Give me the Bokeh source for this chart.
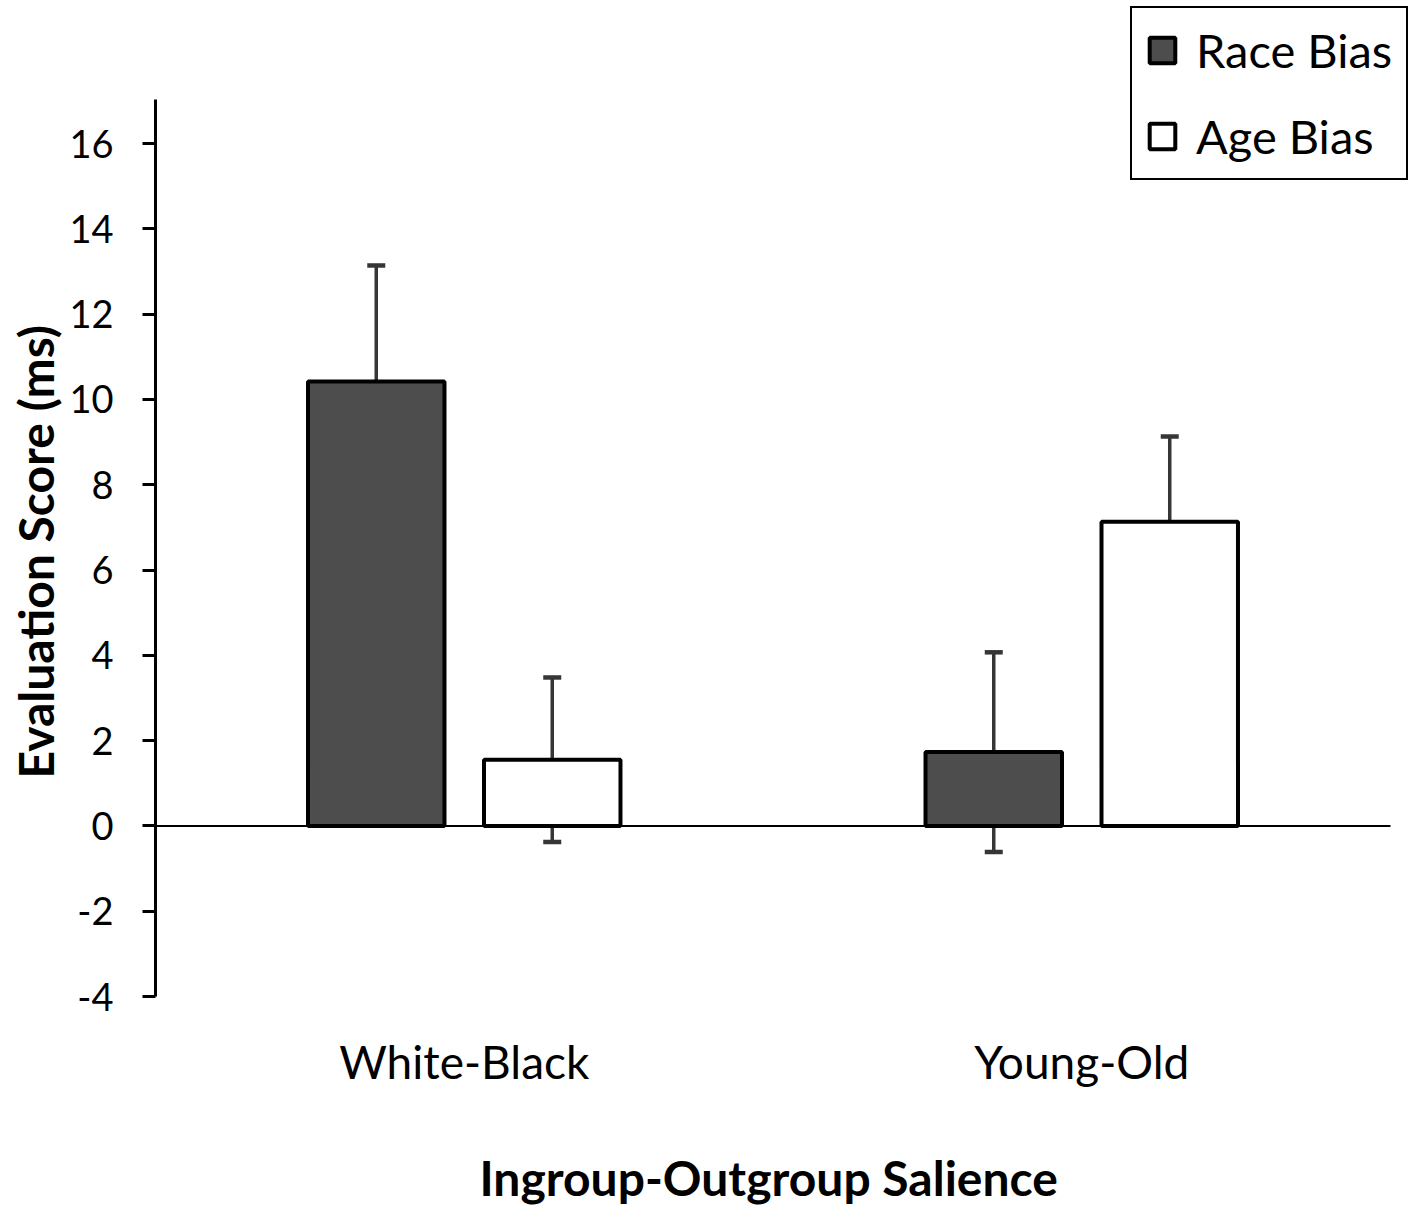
from bokeh.plotting import figure
from bokeh.models import (ColumnDataSource, Range1d, FixedTicker, Whisker, TeeHead,
                          Legend, LegendItem, Title)
from bokeh.transform import dodge
from bokeh.embed import file_html
from bokeh.resources import INLINE

categories = ["White-Black", "Young-Old"]
race_bias = [10.42, 1.73]
race_err = [2.72, 2.34]
age_bias = [1.55, 7.13]
age_err = [1.93, 2.00]
y_ticks = [-4, -2, 0, 2, 4, 6, 8, 10, 12, 14, 16]

FONT = "Lato"
OFF = 0.1425
BAR_W = 0.221
Y_MIN, Y_AXIS_TOP = -4, 17.02

xs = [i + 0.5 for i in range(len(categories))]
n = len(categories)

src = ColumnDataSource(dict(
    x=xs,
    race=race_bias,
    race_up=[v + e for v, e in zip(race_bias, race_err)],
    race_lo=[v - e for v, e in zip(race_bias, race_err)],
    age=age_bias,
    age_up=[v + e for v, e in zip(age_bias, age_err)],
    age_lo=[v - e for v, e in zip(age_bias, age_err)],
))

FRAME_W = 1263
CAT_W = 1235
FRAME_H = 996
PX_PER_UNIT = 42.65

p = figure(x_range=Range1d(0, n * FRAME_W / CAT_W),
           y_range=Range1d(Y_MIN, Y_MIN + FRAME_H / PX_PER_UNIT),
           frame_width=FRAME_W, frame_height=FRAME_H,
           min_border_left=155, min_border_top=0, min_border_right=0, min_border_bottom=218,
           output_backend="svg", toolbar_location=None)
p.outline_line_color = None
p.xgrid.visible = False
p.ygrid.visible = False
p.background_fill_color = "white"
p.border_fill_color = "white"

r_race = p.vbar(x=dodge("x", -OFF), top="race", bottom=0, width=BAR_W,
                source=src, fill_color="#4d4d4d", line_color="black", line_width=4)
r_age = p.vbar(x=dodge("x", OFF), top="age", bottom=0, width=BAR_W,
               source=src, fill_color="white", line_color="black", line_width=4)

# zero line across the category area
p.segment(x0=[0], x1=[n], y0=[0], y1=[0], line_color="black", line_width=2)

for off, up, lo in [(-OFF, "race_up", "race_lo"), (OFF, "age_up", "age_lo")]:
    w = Whisker(base=dodge("x", off), upper=up, lower=lo, source=src,
                line_color="#363636", line_width=3.5,
                upper_head=TeeHead(size=18, line_width=4.5, line_color="#363636"),
                lower_head=TeeHead(size=18, line_width=4.5, line_color="#363636"))
    p.add_layout(w)

# y axis
ya = p.yaxis[0]
ya.bounds = (Y_MIN, Y_AXIS_TOP)
ya.ticker = FixedTicker(ticks=y_ticks)
ya.major_label_overrides = {t: str(t) for t in y_ticks}
ya.minor_tick_line_color = None
ya.axis_line_width = 3
ya.axis_line_color = "black"
ya.major_tick_line_width = 3
ya.major_tick_line_color = "black"
ya.major_tick_out = 13
ya.major_tick_in = 0
ya.major_label_standoff = 29
ya.major_label_text_font = FONT
ya.major_label_text_font_size = "38px"
ya.major_label_text_color = "black"

# x axis
xa = p.xaxis[0]
xa.ticker = FixedTicker(ticks=xs)
xa.major_label_overrides = {x: c for x, c in zip(xs, categories)}
xa.axis_line_color = None
xa.major_tick_line_color = None
xa.minor_tick_line_color = None
xa.major_label_standoff = 31
xa.major_label_text_font = FONT
xa.major_label_text_font_size = "46px"
xa.major_label_text_color = "black"

# axis titles (placed as side-panel titles so they centre on the axis extent)
p.add_layout(Title(text="Evaluation Score (ms)", align="left", offset=218,
                   text_font=FONT, text_font_style="bold", text_font_size="48px",
                   text_color="black", standoff=6), "left")
p.add_layout(Title(text="Ingroup-Outgroup Salience", align="left", offset=324,
                   text_font=FONT, text_font_style="bold", text_font_size="48px",
                   text_color="black", standoff=111), "below")

legend = Legend(items=[LegendItem(label="Race Bias", renderers=[r_race]),
                       LegendItem(label="Age Bias", renderers=[r_age])],
                location=(975, 816), orientation="vertical",
                border_line_color="black", border_line_width=2, border_line_alpha=1,
                background_fill_color="white", background_fill_alpha=1,
                label_text_font=FONT, label_text_font_size="47px", label_text_color="black",
                glyph_width=32, glyph_height=32, label_standoff=18,
                padding=14, spacing=30, margin=0)
p.add_layout(legend)

open("out.html", "w").write(file_html(p, INLINE))
